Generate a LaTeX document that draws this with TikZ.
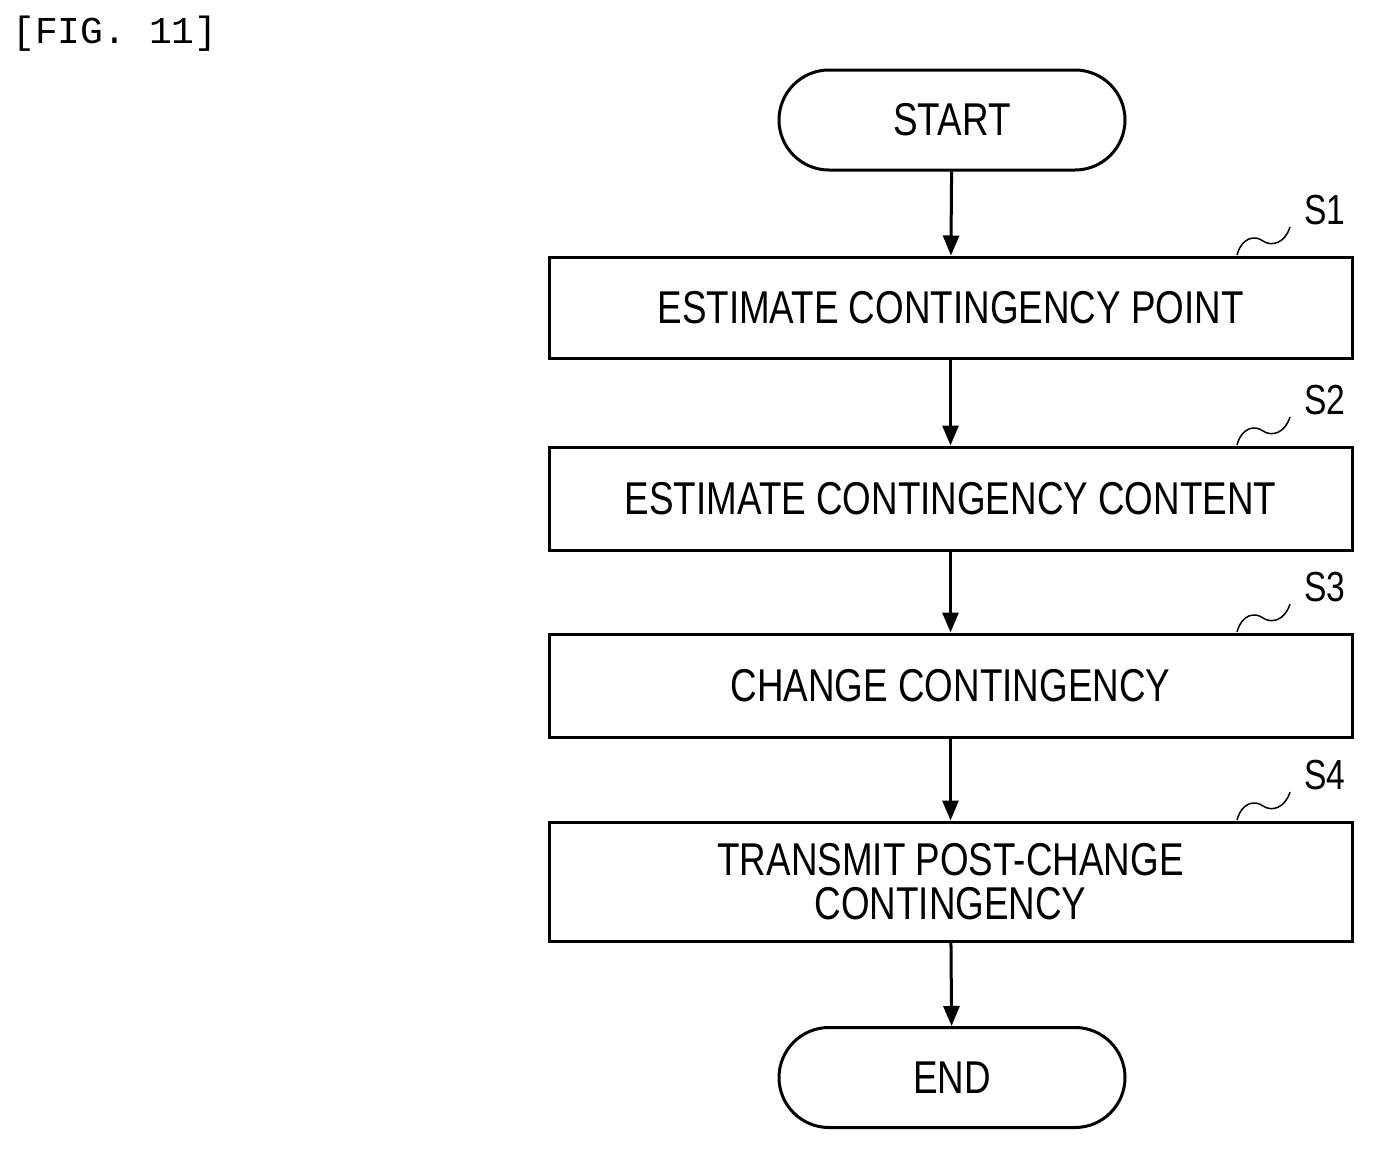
\documentclass[tikz,border=0pt]{standalone}
\usepackage{fontspec}
\setmainfont[FakeStretch=0.8]{Liberation Sans}
\newfontfamily\figmono{Liberation Mono}
\usetikzlibrary{arrows.meta}
\begin{document}
\begin{tikzpicture}[x=1pt,y=-1pt,
  box/.style={draw,line width=3pt,minimum width=803pt,inner sep=0pt,align=center,font=\fontsize{46}{50}\selectfont},
  term/.style={draw,line width=3pt,rounded corners=50pt,minimum width=346pt,minimum height=100pt,inner sep=0pt,font=\fontsize{46}{50}\selectfont},
  arr/.style={line width=3pt,-{Triangle[length=20pt,width=16pt]}},
  lab/.style={font=\fontsize{42}{46}\selectfont,inner sep=0pt},
  sq/.style={line width=1.5pt}]
\useasboundingbox (0,0) rectangle (1374,1151);
\node[anchor=north west,inner sep=0pt,font=\figmono\fontsize{38}{40}\selectfont] (fig) at (12,16) {[FIG. 11]};
\node[term] (start) at (952,120) {START};
\node[box,minimum height=101pt] (s1) at (950.5,307.5) {ESTIMATE CONTINGENCY POINT};
\node[box,minimum height=103pt] (s2) at (950.5,498.5) {ESTIMATE CONTINGENCY CONTENT};
\node[box,minimum height=103pt] (s3) at (950.5,685.5) {CHANGE CONTINGENCY};
\node[box,minimum height=119pt] (s4) at (950.5,881.5) {TRANSMIT POST-CHANGE\\[-6pt]CONTINGENCY};
\node[term] (end) at (952,1077.5) {END};
\draw[arr] (start) -- (s1);
\draw[arr] (s1) -- (s2);
\draw[arr] (s2) -- (s3);
\draw[arr] (s3) -- (s4);
\draw[arr] (s4) -- (end);
\foreach \n/\y in {1/257,2/447,3/634,4/822}{
  \node[lab] (l\n) at (1325,\y-47) {S\n};
  \coordinate (a\n) at (1237,\y-2);
  \coordinate (b\n) at (1290,\y-30);
  \draw[sq] (a\n) .. controls (1242,\y-20) and (1255,\y-22) .. (1263,\y-16) .. controls (1272,\y-10) and (1285,\y-14) .. (b\n);
}
\end{tikzpicture}
\end{document}
